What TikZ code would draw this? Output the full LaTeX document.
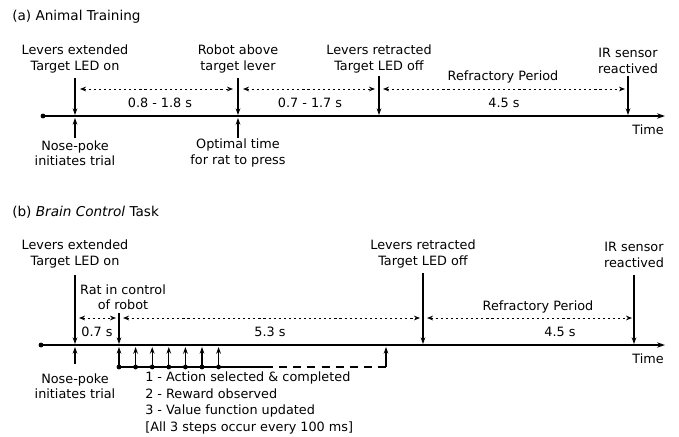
\documentclass[tikz,border=0pt]{standalone}
\usepackage{fontspec}
\setmainfont{DejaVu Sans}
\usetikzlibrary{arrows.meta}

\tikzset{
	timeline/.style={line width=1.4pt, -{Stealth[length=6pt,width=4pt]}},
	event/.style={line width=0.9pt, -{Stealth[length=5pt,width=3.5pt]}},
	span/.style={line width=0.7pt, dash pattern=on 1.6pt off 2.2pt, {Stealth[length=4.5pt,width=3.5pt]}-{Stealth[length=4.5pt,width=3.5pt]}},
	lbl/.style={align=center, inner sep=0pt, font=\fontsize{9.6}{11.4}\selectfont},
	title/.style={anchor=west, inner sep=0pt, font=\fontsize{10.2}{12}\selectfont},
}

\begin{document}
\begin{tikzpicture}[x=0.75pt, y=-0.75pt]
			\useasboundingbox (0,0) rectangle (679,436);
			
			%%%%% (a) ANIMAL TRAINING %%%%%
			
			\node[title] (atitle) at (12,17) {(a) Animal Training};
			
			\coordinate (a0) at (43,116);
			\coordinate (aT) at (665,116);
			\fill (a0) circle (2.4);
			\draw[timeline] (a0) -- (aT);
			\node[lbl] (atime) at (648,130) {Time};
			
			% events above the line
			\node[lbl] (a1lbl) at (75,59) {Levers extended\\Target LED on};
			\node[lbl] (a2lbl) at (238,59) {Robot above\\target lever};
			\node[lbl] (a3lbl) at (379,59) {Levers retracted\\Target LED off};
			\node[lbl] (a4lbl) at (628,61) {IR sensor\\reactived};
			
			\coordinate (a1top) at (75,78);   \coordinate (a1) at (75,115);
			\coordinate (a2top) at (238,78);  \coordinate (a2) at (238,115);
			\coordinate (a3top) at (379,76);  \coordinate (a3) at (379,115);
			\coordinate (a4top) at (628,76);  \coordinate (a4) at (628,115);
			\draw[event] (a1top) -- (a1);
			\draw[event] (a2top) -- (a2);
			\draw[event] (a3top) -- (a3);
			\draw[event] (a4top) -- (a4);
			
			% events below the line
			\node[lbl] (a1low) at (75,153) {Nose-poke\\initiates trial};
			\node[lbl] (a2low) at (238,153) {Optimal time\\for rat to press};
			\coordinate (a1bot) at (75,138);  \coordinate (a1up) at (75,118);
			\coordinate (a2bot) at (238,138); \coordinate (a2up) at (238,118);
			\draw[event] (a1bot) -- (a1up);
			\draw[event] (a2bot) -- (a2up);
			
			% intervals
			\coordinate (s1l) at (80,89);  \coordinate (s1r) at (233,89);
			\coordinate (s2l) at (243,89); \coordinate (s2r) at (375,89);
			\coordinate (s3l) at (383,89); \coordinate (s3r) at (625,89);
			\draw[span] (s1l) -- (s1r);
			\draw[span] (s2l) -- (s2r);
			\draw[span] (s3l) -- (s3r);
			\node[lbl] (s1txt) at (160,103) {0.8 - 1.8 s};
			\node[lbl] (s2txt) at (310,103) {0.7 - 1.7 s};
			\node[lbl] (s3txt) at (504,103) {4.5 s};
			\node[lbl] (s3name) at (503,77) {Refractory Period};
			
			%%%%% (b) BRAIN CONTROL TASK %%%%%
			
			\node[title] (btitle) at (12,212) {(b) \textit{Brain Control} Task};
			
			\coordinate (b0) at (41,345);
			\coordinate (bT) at (665,345);
			\fill (b0) circle (2.4);
			\draw[timeline] (b0) -- (bT);
			\node[lbl] (btime) at (648,359) {Time};
			
			% events above the line
			\node[lbl] (b1lbl) at (75,254) {Levers extended\\Target LED on};
			\node[lbl] (b2lbl) at (123,297) {Rat in control\\of robot};
			\node[lbl] (b3lbl) at (423,254) {Levers retracted\\Target LED off};
			\node[lbl] (b4lbl) at (634,255) {IR sensor\\reactived};
			
			\coordinate (b1top) at (75,275);  \coordinate (b1) at (75,344);
			\coordinate (b2top) at (119,313); \coordinate (b2) at (119,344);
			\coordinate (b3top) at (423,273); \coordinate (b3) at (423,344);
			\coordinate (b4top) at (634,275); \coordinate (b4) at (634,344);
			\draw[event] (b1top) -- (b1);
			\draw[event] (b2top) -- (b2);
			\draw[event] (b3top) -- (b3);
			\draw[event] (b4top) -- (b4);
			
			% nose-poke below the line
			\node[lbl] (b1low) at (75,386) {Nose-poke\\initiates trial};
			\coordinate (b1bot) at (75,364); \coordinate (b1up) at (75,347);
			\draw[event] (b1bot) -- (b1up);
			
			% intervals
			\coordinate (t1l) at (79,318);  \coordinate (t1r) at (116,318);
			\coordinate (t2l) at (123,318); \coordinate (t2r) at (420,318);
			\coordinate (t3l) at (427,318); \coordinate (t3r) at (632,318);
			\draw[span] (t1l) -- (t1r);
			\draw[span] (t2l) -- (t2r);
			\draw[span] (t3l) -- (t3r);
			\node[lbl] (t1txt) at (97,332) {0.7 s};
			\node[lbl] (t2txt) at (270,332) {5.3 s};
			\node[lbl] (t3txt) at (560,332) {4.5 s};
			\node[lbl] (t3name) at (538,307) {Refractory Period};
			
			% update steps every 100 ms
			\coordinate (st0) at (119,367);
			\coordinate (stmid) at (265,367);
			\coordinate (stend) at (386,367);
			\coordinate (stendup) at (386,347);
			\draw[line width=1.4pt] (st0) -- (stmid);
			\draw[line width=0.9pt, dash pattern=on 6pt off 4.6pt] (stmid) -- (stend);
			\draw[event] (stend) -- (stendup);
			\foreach \i in {0,...,6} {
				\coordinate (stb\i) at (119+16.6*\i,367);
				\coordinate (stu\i) at (119+16.6*\i,347);
				\fill (stb\i) circle (2.4);
				\draw[event] (stb\i) -- (stu\i);
			}
			
			\node[lbl, align=left, anchor=west, font=\fontsize{9.6}{12.3}\selectfont] (steps) at (145,403)
				{1 - Action selected \& completed\\2 - Reward observed\\3 - Value function updated\\{[All 3 steps occur every 100 ms]}};
			
		\end{tikzpicture}
\end{document}
